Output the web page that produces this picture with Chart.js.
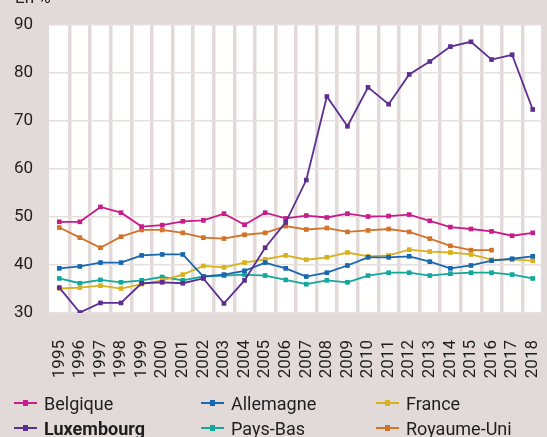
<!DOCTYPE html>
<html>
<head>
<meta charset="utf-8">
<script src="https://cdn.jsdelivr.net/npm/chart.js@4"></script>
<style>
  html, body { margin: 0; padding: 0; background: #e2dad9; }
  #wrap { position: relative; width: 547px; height: 437px; overflow: hidden; }
  #chart { position: absolute; left: 0; top: 0; }
  .leg { position: absolute; display: flex; align-items: center; height: 22px; font-family: Roboto, sans-serif; font-size: 18px; color: #1e1e1e; }
  .leg .sw { position: relative; width: 23px; height: 2px; margin-right: 7px; }
  .leg .sw i { position: absolute; left: 9px; top: -2px; width: 5px; height: 6px; }
</style>
</head>
<body>
<div id="wrap">
  <canvas id="chart" width="547" height="437"></canvas>
</div>
<script>
// données (en %)
const years = ['1995','1996','1997','1998','1999','2000','2001','2002','2003','2004','2005','2006',
               '2007','2008','2009','2010','2011','2012','2013','2014','2015','2016','2017','2018'];
const yTicks = [30, 40, 50, 60, 70, 80, 90];

const belgique   = [49.0,49.0,52.1,50.9,48.0,48.3,49.1,49.3,50.7,48.4,50.9,49.7,50.3,49.9,50.7,50.1,50.2,50.5,49.2,47.9,47.5,47.0,46.1,46.7];
const allemagne  = [39.3,39.7,40.5,40.5,42.0,42.2,42.2,37.6,38.0,38.8,40.5,39.3,37.6,38.4,39.9,41.6,41.6,41.8,40.7,39.3,39.9,40.9,41.3,41.8];
const france     = [35.1,35.3,35.7,35.1,36.0,36.8,38.0,39.8,39.5,40.5,41.2,42.0,41.1,41.6,42.6,41.8,42.0,43.2,42.8,42.6,42.2,41.1,41.1,40.9];
const luxembourg = [35.3,30.1,32.1,32.1,36.2,36.4,36.2,37.2,32.0,36.8,43.6,48.9,57.7,75.1,68.9,77.0,73.5,79.7,82.4,85.5,86.5,82.8,83.8,72.4];
const paysBas    = [37.2,36.2,36.9,36.4,36.8,37.5,36.8,37.6,37.8,38.0,37.8,36.9,36.0,36.8,36.4,37.8,38.4,38.4,37.8,38.2,38.4,38.4,38.0,37.2];
const royaumeUni = [47.8,45.7,43.6,45.9,47.3,47.3,46.7,45.7,45.5,46.3,46.7,48.1,47.4,47.7,46.9,47.2,47.5,46.9,45.5,44.0,43.1,43.1,null,null];

const seriesNames  = ['Belgique', 'Allemagne', 'France', 'Luxembourg', 'Pays-Bas', 'Royaume-Uni'];
const seriesValues = [belgique, allemagne, france, luxembourg, paysBas, royaumeUni];
const seriesColors = ['#c91c8b', '#1867b0', '#d8b11c', '#5c2e91', '#13a89b', '#d3722a'];

const BG = '#e2dad9';
const TEXT = '#1e1e1e';
const FONT = 'Roboto, sans-serif';

const plotBg = {
    id: 'plotBg',
    beforeDraw(chart) {
        const { ctx, chartArea: a } = chart;
        ctx.save();
        ctx.fillStyle = '#ffffff';
        ctx.fillRect(a.left, a.top, a.right - a.left, a.bottom - a.top);
        ctx.fillStyle = TEXT;
        ctx.font = '17px ' + FONT;
        ctx.textBaseline = 'alphabetic';
        ctx.fillText('En %', 15, 3);
        ctx.restore();
    }
};

const datasets = seriesNames.map((name, i) => ({
    label: name,
    data: seriesValues[i],
    borderColor: seriesColors[i],
    backgroundColor: seriesColors[i],
    pointBackgroundColor: seriesColors[i],
    borderWidth: 1.8,
    pointStyle: 'rect',
    pointRadius: 3.3,
    pointBorderWidth: 0,
    tension: 0,
    spanGaps: false,
    order: name === 'Luxembourg' ? 0 : 1
}));

new Chart(document.getElementById('chart'), {
    type: 'line',
    data: { labels: years, datasets: datasets },
    options: {
        responsive: false,
        animation: false,
        layout: { padding: { top: 25, left: 0, right: 0, bottom: 0 } },
        plugins: { legend: { display: false }, tooltip: { enabled: false } },
        scales: {
            x: {
                offset: true,
                border: { display: false },
                grid: {
                    offset: true,
                    drawTicks: false,
                    lineWidth: 3.5,
                    color: c => (c.index === 0 || c.index === years.length) ? 'rgba(0,0,0,0)' : BG
                },
                ticks: {
                    autoSkip: false,
                    maxRotation: 90,
                    minRotation: 90,
                    padding: 27,
                    color: TEXT,
                    font: { family: FONT, size: 17 }
                },
                afterFit: s => { s.height = 124; s.paddingLeft = 0; s.paddingRight = 0; }
            },
            y: {
                min: 30,
                max: 90,
                afterBuildTicks: s => { s.ticks = yTicks.map(v => ({ value: v })); },
                border: { display: false },
                grid: { drawTicks: false, lineWidth: 1.5, color: '#e6dfde' },
                ticks: { padding: 16, color: TEXT, font: { family: FONT, size: 17 } },
                afterFit: s => { s.width = 49; s.paddingTop = 0; s.paddingBottom = 0; }
            }
        }
    },
    plugins: [plotBg]
});

// légende en 3 colonnes
const colLeft = [14, 201, 376];
const rowMid = [403, 428];
const wrap = document.getElementById('wrap');
seriesNames.forEach((name, i) => {
    const el = document.createElement('div');
    el.className = 'leg';
    el.style.left = colLeft[i % 3] + 'px';
    el.style.top = (rowMid[Math.floor(i / 3)] - 11) + 'px';
    if (name === 'Luxembourg') el.style.fontWeight = 'bold';
    const sw = document.createElement('span');
    sw.className = 'sw';
    sw.style.background = seriesColors[i];
    const sq = document.createElement('i');
    sq.style.background = seriesColors[i];
    sw.appendChild(sq);
    const tx = document.createElement('span');
    tx.textContent = name;
    el.appendChild(sw);
    el.appendChild(tx);
    wrap.appendChild(el);
});
</script>
</body>
</html>
